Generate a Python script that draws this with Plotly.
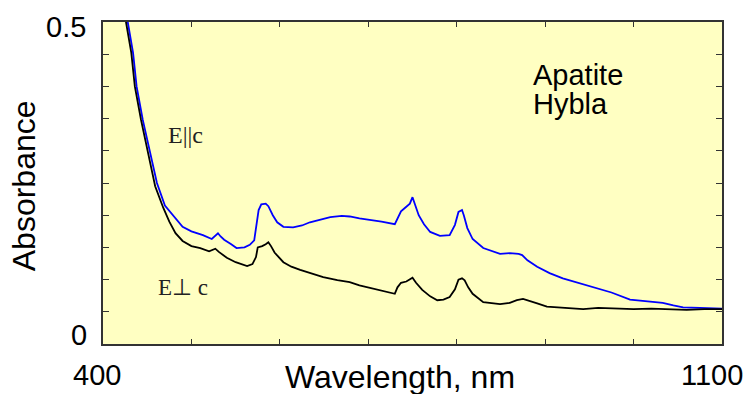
import plotly.graph_objects as go

# E || c (blue)
wl_par = [420, 428, 434, 438, 445, 453, 461, 470, 476, 490, 500, 513, 523, 527, 530, 533, 537, 545, 551, 560, 566,
          571, 574, 576, 579, 584, 587, 592, 597, 604, 615, 625, 634, 645, 657, 670, 679, 690, 702, 715, 730,
          733, 737, 742, 747, 750, 753, 757, 763, 770, 781, 792, 798, 802, 806, 808, 812, 818, 830, 840, 849,
          860, 870, 874, 880, 891, 905, 920, 940, 959, 975, 996, 1010, 1020, 1033, 1045, 1056, 1075, 1100]
abs_par = [0.60, 0.50, 0.452, 0.40, 0.348, 0.297, 0.250, 0.215, 0.205, 0.182, 0.175, 0.169, 0.163, 0.168, 0.172,
           0.167, 0.162, 0.155, 0.149, 0.150, 0.154, 0.161, 0.190, 0.208, 0.217, 0.218, 0.214, 0.200, 0.189,
           0.182, 0.181, 0.184, 0.189, 0.193, 0.197, 0.199, 0.198, 0.195, 0.193, 0.190, 0.186, 0.195, 0.206,
           0.212, 0.218, 0.228, 0.215, 0.200, 0.186, 0.174, 0.168, 0.169, 0.185, 0.205, 0.208, 0.200, 0.180,
           0.163, 0.149, 0.144, 0.140, 0.141, 0.140, 0.138, 0.130, 0.120, 0.110, 0.102, 0.094, 0.087, 0.080,
           0.069, 0.067, 0.066, 0.064, 0.060, 0.057, 0.056, 0.055]

# E perpendicular c (black)
wl_perp = [418, 426, 432, 436, 443, 451, 459, 468, 475, 482, 490, 500, 510, 520, 524, 527, 531, 540, 550, 563,
           569, 573, 575, 580, 584, 587, 590, 594, 604, 613, 623, 635, 649, 665, 679, 690, 702, 715, 730, 733,
           737, 743, 747, 750, 754, 761, 770, 778, 785, 792, 798, 802, 806, 809, 813, 818, 830, 840, 849, 860,
           868, 875, 883, 891, 902, 920, 943, 960, 980, 1000, 1020, 1040, 1060, 1080, 1100]
abs_perp = [0.60, 0.50, 0.452, 0.40, 0.348, 0.297, 0.245, 0.212, 0.190, 0.172, 0.160, 0.152, 0.149, 0.144, 0.147,
            0.148, 0.143, 0.134, 0.127, 0.121, 0.124, 0.135, 0.150, 0.152, 0.155, 0.158, 0.152, 0.142, 0.127,
            0.120, 0.115, 0.110, 0.104, 0.099, 0.096, 0.091, 0.087, 0.083, 0.078, 0.088, 0.095, 0.097, 0.100,
            0.103, 0.095, 0.084, 0.074, 0.068, 0.069, 0.073, 0.085, 0.100, 0.102, 0.099, 0.088, 0.078, 0.065,
            0.063, 0.062, 0.064, 0.068, 0.070, 0.067, 0.063, 0.058, 0.056, 0.054, 0.056, 0.055, 0.054, 0.055,
            0.054, 0.053, 0.054, 0.054]

x_tick_labels = ["400", "1100"]
x_tick_vals = [400, 1100]
y_tick_labels = ["0", "0.5"]
y_tick_vals = [0, 0.5]

fig = go.Figure()
fig.add_trace(go.Scatter(x=wl_par, y=abs_par, mode="lines",
                         line=dict(color="#0000FF", width=1.8), showlegend=False))
fig.add_trace(go.Scatter(x=wl_perp, y=abs_perp, mode="lines",
                         line=dict(color="#000000", width=1.8), showlegend=False))

sans = "Liberation Sans, Arial, sans-serif"
serif = "Liberation Serif, Times New Roman, serif"

# tick labels as annotations
fig.add_annotation(x=x_tick_vals[0], y=0, xref="x", yref="y", text=x_tick_labels[0], showarrow=False,
                   yshift=-31, xshift=-6, font=dict(family=sans, size=29, color="black"))
fig.add_annotation(x=x_tick_vals[1], y=0, xref="x", yref="y", text=x_tick_labels[1], showarrow=False,
                   yshift=-31, xshift=-10, font=dict(family=sans, size=29, color="black"))
fig.add_annotation(x=400, y=y_tick_vals[0], xref="x", yref="y", text=y_tick_labels[0], showarrow=False,
                   xanchor="right", xshift=-14, yshift=9, font=dict(family=sans, size=29, color="black"))
fig.add_annotation(x=400, y=y_tick_vals[1], xref="x", yref="y", text=y_tick_labels[1], showarrow=False,
                   xanchor="right", xshift=-15, yshift=-5, font=dict(family=sans, size=29, color="black"))

# axis titles
fig.add_annotation(xref="paper", yref="paper", x=0.48, y=0, text="Wavelength, nm", showarrow=False,
                   xanchor="center", yanchor="middle", yshift=-33,
                   font=dict(family=sans, size=32, color="black"))
fig.add_annotation(xref="paper", yref="paper", x=0, y=0.49, text="Absorbance", showarrow=False, textangle=-90,
                   xanchor="center", yanchor="middle", xshift=-79,
                   font=dict(family=sans, size=32, color="black"))

# curve labels
fig.add_annotation(x=493, y=0.325, xref="x", yref="y", text="E||c", showarrow=False,
                   font=dict(family=serif, size=24, color="#222"))
fig.add_annotation(x=491, y=0.087, xref="x", yref="y", text="E\u22a5 c", showarrow=False,
                   font=dict(family=serif, size=23, color="#222"))
fig.add_annotation(x=884, y=0.418, xref="x", yref="y", text="Apatite", showarrow=False,
                   xanchor="left", font=dict(family=sans, size=29, color="black"))
fig.add_annotation(x=884, y=0.373, xref="x", yref="y", text="Hybla", showarrow=False,
                   xanchor="left", font=dict(family=sans, size=29, color="black"))

fig.update_xaxes(range=[400, 1100], showgrid=False, zeroline=False, showticklabels=False,
                 ticks="inside", tickvals=list(range(500, 1100, 100)), ticklen=5, tickcolor="#333",
                 showline=True, linecolor="#333", linewidth=2, mirror="ticks")
fig.update_yaxes(range=[0, 0.5], showgrid=False, zeroline=False, showticklabels=False,
                 ticks="inside", dtick=0.05, tick0=0, ticklen=6, tickcolor="#333",
                 showline=True, linecolor="#333", linewidth=2, mirror="ticks")

fig.update_layout(width=750, height=394, margin=dict(l=103, r=28, t=22, b=50),
                  paper_bgcolor="white", plot_bgcolor="#FFFFC2", showlegend=False)

fig.write_html("out.html", post_script="document.body.style.margin='0';",
               config={"displayModeBar": False})
